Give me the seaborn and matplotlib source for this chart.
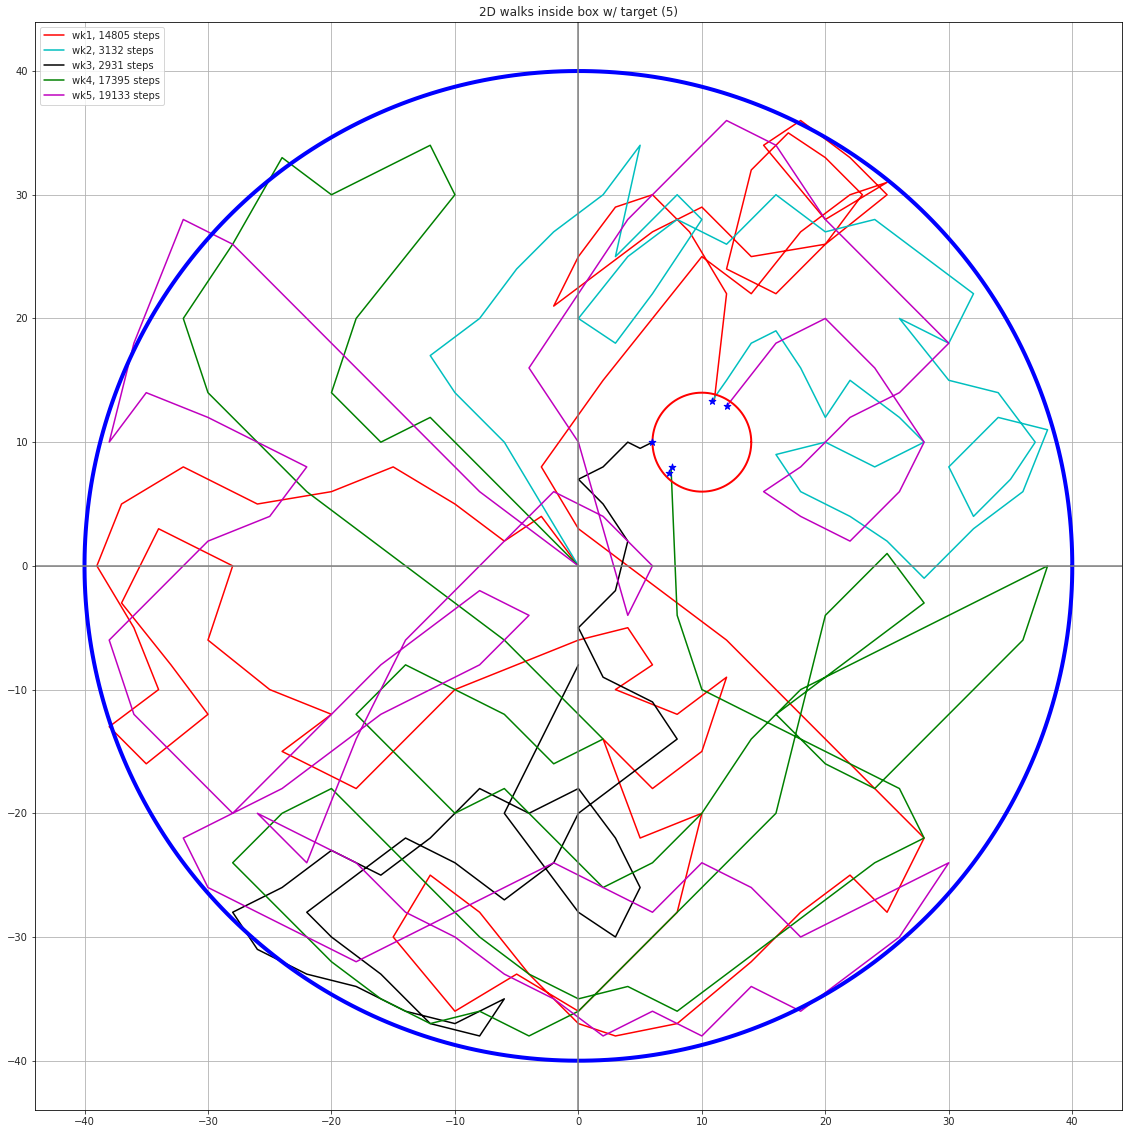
import matplotlib
matplotlib.use("Agg")
import matplotlib.pyplot as plt
import seaborn as sns
import numpy as np

names = ["wk1, 14805 steps", "wk2, 3132 steps", "wk3, 2931 steps", "wk4, 17395 steps", "wk5, 19133 steps"]
colors = ["r", "c", "k", "g", "m"]

# waypoints (coarse path of each walk)
wk1_x = [0, -3, -6, -10, -15, -20, -26, -32, -37, -39, -36, -34, -38, -35, -30, -33, -37, -34, -28, -30, -25, -20, -24, -18, -14, -10, -5, 0, 4, 6, 3, 8, 12, 10, 6, 2, 5, 10, 8, 4, 0, -5, -10, -15, -12, -8, -4, 0, 3, 8, 14, 18, 22, 25, 28, 24, 20, 16, 12, 8, 4, 0, -3, 2, 6, 10, 14, 18, 22, 25, 20, 15, 18, 22, 25, 20, 16, 12, 14, 17, 20, 23, 20, 14, 10, 6, 2, -2, 0, 3, 6, 9, 12, 11]
wk1_y = [0, 4, 2, 5, 8, 6, 5, 8, 5, 0, -5, -10, -13, -16, -12, -8, -3, 3, 0, -6, -10, -12, -15, -18, -14, -10, -8, -6, -5, -8, -10, -12, -9, -15, -18, -14, -22, -20, -28, -32, -36, -33, -36, -30, -25, -28, -33, -37, -38, -37, -32, -28, -25, -28, -22, -18, -14, -10, -6, -3, 0, 3, 8, 15, 20, 25, 22, 27, 30, 31, 28, 34, 36, 33, 30, 26, 22, 24, 32, 35, 33, 30, 26, 25, 29, 27, 24, 21, 25, 29, 30, 27, 22, 13.3]

wk2_x = [0, -3, -6, -10, -12, -8, -5, -2, 2, 5, 3, 8, 10, 6, 3, 0, 4, 8, 12, 16, 20, 24, 28, 32, 30, 26, 30, 34, 37, 35, 32, 30, 34, 38, 36, 32, 28, 25, 22, 18, 16, 20, 24, 28, 26, 22, 20, 18, 16, 14, 12, 10.8]
wk2_y = [0, 5, 10, 14, 17, 20, 24, 27, 30, 34, 25, 30, 28, 22, 18, 20, 25, 28, 26, 30, 27, 28, 25, 22, 18, 20, 15, 14, 10, 7, 4, 8, 12, 11, 6, 3, -1, 2, 4, 6, 9, 10, 8, 10, 12, 15, 12, 16, 19, 18, 15, 13.3]

wk3_x = [0, -2, -4, -6, -3, 0, 3, 5, 3, 0, -4, -8, -12, -16, -20, -24, -28, -26, -22, -18, -14, -10, -6, -8, -12, -16, -20, -22, -18, -14, -10, -6, -2, 0, 4, 8, 6, 2, 0, 3, 4, 2, 0, 2, 3, 4, 5, 6]
wk3_y = [-8, -12, -16, -20, -24, -28, -30, -26, -22, -18, -20, -18, -22, -25, -23, -26, -28, -31, -33, -34, -36, -37, -35, -38, -37, -33, -30, -28, -25, -22, -24, -27, -24, -20, -17, -14, -11, -9, -5, -2, 2, 5, 7, 8, 9, 10, 9.5, 10]

wk4_x = [0, -4, -8, -12, -16, -20, -18, -14, -10, -12, -16, -20, -24, -28, -32, -30, -26, -22, -18, -14, -10, -6, -2, 2, -2, -6, -10, -14, -18, -14, -10, -6, -2, 2, 6, 10, 14, 18, 22, 26, 30, 34, 38, 36, 32, 28, 24, 20, 16, 20, 24, 28, 25, 20, 16, 12, 8, 4, 0, -4, -8, -12, -16, -20, -24, -28, -24, -20, -16, -12, -8, -4, 0, 4, 8, 12, 16, 20, 24, 28, 26, 22, 18, 14, 10, 8, 7.5]
wk4_y = [0, 4, 8, 12, 10, 14, 20, 25, 30, 34, 32, 30, 33, 26, 20, 14, 10, 6, 3, 0, -3, -6, -10, -14, -16, -12, -10, -8, -12, -16, -20, -18, -22, -26, -24, -20, -14, -10, -8, -6, -4, -2, 0, -6, -10, -14, -18, -16, -12, -9, -6, -3, 1, -4, -20, -24, -28, -32, -36, -38, -36, -37, -35, -32, -28, -24, -20, -18, -22, -26, -30, -33, -35, -34, -36, -33, -30, -27, -24, -22, -18, -16, -14, -12, -10, -4, 8]

wk5_x = [0, -4, -8, -12, -16, -20, -24, -28, -32, -36, -38, -35, -30, -26, -22, -25, -30, -34, -38, -36, -32, -28, -24, -20, -16, -12, -8, -4, -8, -12, -16, -20, -24, -28, -32, -30, -26, -22, -18, -14, -10, -6, -2, 2, 6, 10, 14, 18, 22, 26, 30, 26, 22, 18, 14, 10, 6, 2, -2, -6, -10, -14, -18, -22, -26, -22, -18, -14, -10, -6, -2, 2, 6, 4, 0, -4, 0, 4, 8, 12, 16, 20, 24, 28, 30, 26, 22, 18, 15, 18, 22, 26, 28, 24, 20, 16, 12]
wk5_y = [0, 3, 6, 10, 14, 18, 22, 26, 28, 18, 10, 14, 12, 10, 8, 4, 2, -2, -6, -12, -16, -20, -18, -15, -12, -10, -8, -4, -2, -5, -8, -12, -16, -20, -22, -26, -28, -30, -32, -30, -28, -26, -24, -26, -28, -24, -26, -30, -28, -26, -24, -30, -33, -36, -34, -38, -36, -38, -35, -33, -30, -28, -24, -22, -20, -24, -14, -6, -2, 2, 6, 4, 0, -4, 10, 16, 22, 28, 32, 36, 34, 28, 24, 20, 18, 14, 12, 8, 6, 4, 2, 6, 10, 16, 20, 18, 12.9]

walks = [(wk1_x, wk1_y), (wk2_x, wk2_y), (wk3_x, wk3_y), (wk4_x, wk4_y), (wk5_x, wk5_y)]

star_x = [6, 7.6, 7.3, 10.8, 12]
star_y = [10, 8, 7.5, 13.3, 12.9]

sns.set_style("white")
plt.rcParams['font.family'] = ['DejaVu Sans']
fig, ax = plt.subplots(figsize=(1133 / 72, 1134 / 72), dpi=72)
for (x, y), c, n in zip(walks, colors, names):
    sns.lineplot(x=x, y=y, sort=False, estimator=None, color=c, label=n, lw=1.5, ax=ax)
ax.scatter(star_x, star_y, marker="*", color="b", s=50, zorder=5)
t = np.linspace(0, 2 * np.pi, 400)
ax.plot(40 * np.cos(t), 40 * np.sin(t), color="b", lw=4)
ax.plot(10 + 4 * np.cos(t), 10 + 4 * np.sin(t), color="r", lw=2)
ax.axhline(0, color="gray", lw=1.5)
ax.axvline(0, color="gray", lw=1.5)
ax.set_xlim(-44, 44)
ax.set_ylim(-44, 44)
ax.set_xticks(range(-40, 41, 10))
ax.set_yticks(range(-40, 41, 10))
ax.grid(True, color="#b0b0b0", lw=0.8)
for s in ax.spines.values():
    s.set_color("black")
ax.tick_params(left=True, bottom=True, length=3.5, labelsize=10)
ax.set_title("2D walks inside box w/ target (5)", fontsize=12)
ax.legend(loc="upper left", fontsize=10)
fig.subplots_adjust(left=0.031, right=0.99, top=0.981, bottom=0.021)
fig.savefig("out.png", dpi=72)
